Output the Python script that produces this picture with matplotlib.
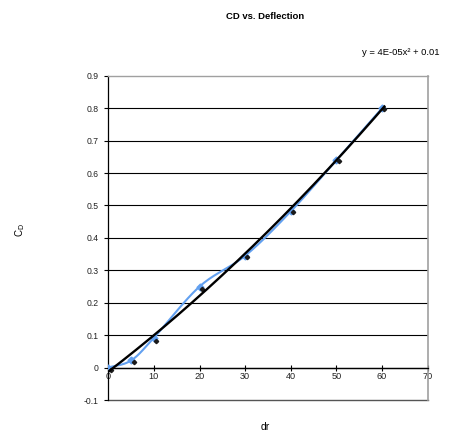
import numpy as np
import matplotlib
matplotlib.use("Agg")
import matplotlib.pyplot as plt

# data
dr = [0, 5, 10, 20, 30, 40, 50, 60]
cd = [0.0, 0.022, 0.092, 0.25, 0.345, 0.482, 0.64, 0.80]
# dark marker series (slightly offset copy as drawn)
dr_dark = [0.5, 5.6, 10.4, 20.5, 30.5, 40.5, 50.5, 60.5]
cd_dark = [-0.008, 0.017, 0.081, 0.243, 0.342, 0.479, 0.637, 0.797]

xticks = [0, 10, 20, 30, 40, 50, 60, 70]
yticks = [-0.1, 0, 0.1, 0.2, 0.3, 0.4, 0.5, 0.6, 0.7, 0.8, 0.9]

def catmull_rom(x, y, n=30):
    x = np.asarray(x, float); y = np.asarray(y, float)
    px = np.concatenate([[2*x[0]-x[1]], x, [2*x[-1]-x[-2]]])
    py = np.concatenate([[2*y[0]-y[1]], y, [2*y[-1]-y[-2]]])
    ox, oy = [], []
    t = np.linspace(0, 1, n)
    for i in range(1, len(px)-2):
        for P, out in ((px, ox), (py, oy)):
            p0, p1, p2, p3 = P[i-1], P[i], P[i+1], P[i+2]
            out.extend(0.5*((2*p1) + (-p0+p2)*t + (2*p0-5*p1+4*p2-p3)*t**2 + (-p0+3*p1-3*p2+p3)*t**3))
    return np.array(ox), np.array(oy)

plt.rcParams['font.family'] = ['Liberation Sans', 'DejaVu Sans']
fig = plt.figure(figsize=(4.56, 4.33), dpi=100)
ax = fig.add_axes([0.2375, 0.0762, 0.7005, 0.7488])

ax.set_xlim(0, 70)
ax.set_ylim(-0.1, 0.9)

for yv in yticks[2:-1]:
    ax.axhline(yv, color='black', lw=0.8, zorder=1)
ax.axhline(0, color='black', lw=0.9, zorder=1)

sx, sy = catmull_rom(dr, cd)
blue = '#62A0F0'
ax.plot(sx, sy, color=blue, lw=1.5, zorder=3)
ax.plot(dr, cd, 'D', color=blue, ms=3.5, zorder=4)
ax.plot(dr_dark, cd_dark, 'D', color='#1a1a1a', ms=2.2, zorder=5)

coef = np.polyfit(dr, cd, 2)
tx = np.linspace(0, 60.5, 200)
ax.plot(tx, np.polyval(coef, tx), color='black', lw=1.7, zorder=6)

ax.set_xticks(xticks)
ax.set_yticks(yticks)
ax.set_yticklabels(['-0.1', '0', '0.1', '0.2', '0.3', '0.4', '0.5', '0.6', '0.7', '0.8', '0.9'])
ax.set_xticklabels([str(v) for v in xticks])
ax.tick_params(axis='y', direction='out', length=3, width=0.8, labelsize=6.2, pad=4, colors='black')
ax.tick_params(axis='y', labelcolor='#222222')
ax.tick_params(axis='x', direction='inout', length=4, width=0.8, labelsize=6.6, pad=1, labelcolor='#222222')
# place x ticks on the y=0 line
ax.spines['bottom'].set_position(('data', 0))
ax.spines['bottom'].set_color('black')
ax.spines['bottom'].set_linewidth(0.9)
ax.spines['left'].set_color('black')
ax.spines['left'].set_linewidth(0.9)
ax.spines['top'].set_color('#a0a0a0')
ax.spines['right'].set_color('#a0a0a0')
ax.spines['top'].set_linewidth(1.0)
ax.spines['right'].set_linewidth(1.2)
# lower border at -0.1
ax.axhline(-0.1, color='#555555', lw=1.0, zorder=2, clip_on=False)

fig.text(0.5823, 0.961, 'CD vs. Deflection', ha='center', va='center', fontsize=6.8, fontweight='bold')
fig.text(0.793, 0.878, 'y = 4E-05x² + 0.01', ha='left', va='center', fontsize=6.8)
fig.text(0.045, 0.468, r'C$_\mathrm{D}$', rotation=90, ha='center', va='center', fontsize=7)
fig.text(0.582, 0.015, 'dr', ha='center', va='center', fontsize=7.5)

fig.savefig('out.png', dpi=100)
